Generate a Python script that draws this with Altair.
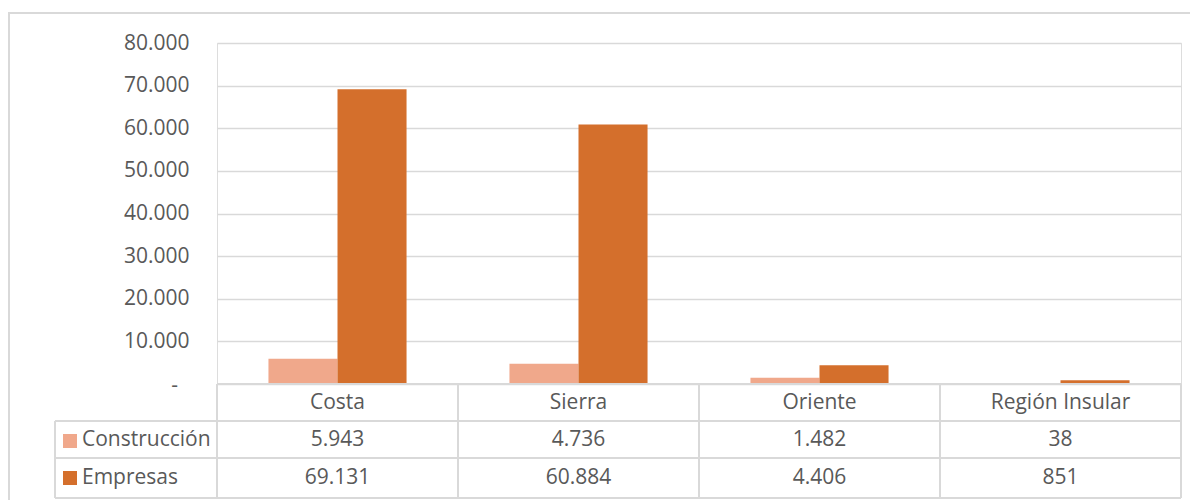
import altair as alt
import pandas as pd

# ---- data ----
regions = ["Costa", "Sierra", "Oriente", "Región Insular"]
series = ["Construcción", "Empresas"]
construccion = [5943, 4736, 1482, 38]
empresas = [69131, 60884, 4406, 851]
y_ticks = [0, 10000, 20000, 30000, 40000, 50000, 60000, 70000, 80000]
colors = ["#F0A88B", "#D46F2C"]

rows = []
for r, c, e in zip(regions, construccion, empresas):
    rows.append({"region": r, "serie": series[0], "value": c})
    rows.append({"region": r, "serie": series[1], "value": e})
df = pd.DataFrame(rows)

W, H = 964, 341
FONT = "Open Sans"
FS = 21
TXT = "#595959"
GRID = "#D9D9D9"

num_expr = "replace(format(datum.value, ','), regexp(',', 'g'), '.')"

base = alt.Chart(df)

x_enc = alt.X("region:N", sort=regions, axis=None,
              scale=alt.Scale(paddingInner=0.427, paddingOuter=0.2135))
y_scale = alt.Scale(domain=[0, 80000], nice=False)

bars = base.mark_bar().encode(
    x=x_enc,
    xOffset=alt.XOffset("serie:N", sort=series),
    y=alt.Y("value:Q", scale=y_scale,
            axis=alt.Axis(values=y_ticks, grid=True, gridColor=GRID, gridWidth=1.5,
                          domain=False, ticks=False, title=None,
                          labelFont=FONT, labelFontSize=FS, labelColor=TXT,
                          labelPadding=28,
                          labelExpr="datum.value == 0 ? '' : " + num_expr)),
    color=alt.Color("serie:N", sort=series,
                    scale=alt.Scale(domain=series, range=colors), legend=None),
)

# zero label shown as a dash (accounting format)
zero_dash = alt.Chart(pd.DataFrame({"v": [0]})).mark_text(
    text="-", font=FONT, fontSize=FS, color=TXT, align="right", baseline="middle", dy=2
).encode(x=alt.value(-39), y=alt.Y("v:Q", scale=y_scale))

# table grid lines (layout)
row_top, row1, row2, row_bot = H, H + 37, H + 74, H + 114
label_left = -162
col_edges = [0, 241, 482, 723, 964]
lines = [
    {"x": 0, "x2": W, "y": row_top, "y2": row_top},
    {"x": label_left, "x2": W, "y": row1, "y2": row1},
    {"x": label_left, "x2": W, "y": row2, "y2": row2},
    {"x": label_left, "x2": W, "y": row_bot, "y2": row_bot},
    {"x": label_left, "x2": label_left, "y": row1, "y2": row_bot},
] + [{"x": cx, "x2": cx, "y": row_top, "y2": row_bot} for cx in col_edges]
grid_df = pd.DataFrame(lines)

table_lines = alt.Chart(grid_df).mark_rule(color=GRID, strokeWidth=2).encode(
    x=alt.X("x:Q", scale=None), x2="x2:Q",
    y=alt.Y("y:Q", scale=None), y2="y2:Q",
)

header = alt.Chart(pd.DataFrame({"region": regions})).mark_text(
    font=FONT, fontSize=FS, color=TXT, baseline="middle"
).encode(x=x_enc, y=alt.value(row_top + 19), text="region:N")

def value_row(name, ypix):
    return base.transform_filter(alt.datum.serie == name).transform_calculate(
        label=num_expr
    ).mark_text(font=FONT, fontSize=FS, color=TXT, baseline="middle").encode(
        x=x_enc, y=alt.value(ypix), text="label:N")

vals1 = value_row(series[0], row1 + 19)
vals2 = value_row(series[1], row2 + 20)

leg_text1 = alt.Chart(pd.DataFrame({"serie": [series[0]]})).mark_text(
    font=FONT, fontSize=FS, color=TXT, baseline="middle", align="left"
).encode(x=alt.value(-135), y=alt.value(row1 + 19), text="serie:N")
leg_text2 = alt.Chart(pd.DataFrame({"serie": [series[1]]})).mark_text(
    font=FONT, fontSize=FS, color=TXT, baseline="middle", align="left"
).encode(x=alt.value(-135), y=alt.value(row2 + 20), text="serie:N")
sq1 = alt.Chart(pd.DataFrame({"serie": [series[0]]})).mark_square(
    size=196, opacity=1, color=colors[0]
).encode(x=alt.value(-147), y=alt.value(row1 + 20))
sq2 = alt.Chart(pd.DataFrame({"serie": [series[1]]})).mark_square(
    size=196, opacity=1, color=colors[1]
).encode(x=alt.value(-147), y=alt.value(row2 + 20))

border = alt.Chart(pd.DataFrame({"a": [0]})).mark_rect(
    fill=None, fillOpacity=0, stroke=GRID, strokeWidth=2
).encode(x=alt.value(-208), x2=alt.value(1100), y=alt.value(-30), y2=alt.value(700))

chart = alt.layer(
    border, bars, zero_dash, table_lines, header, vals1, vals2,
    leg_text1, leg_text2, sq1, sq2
).properties(
    width=W, height=H,
    autosize=alt.AutoSizeParams(type="none"),
    padding={"left": 209, "top": 35, "right": 9, "bottom": 116},
).configure_view(stroke=None).configure(background="white")

chart.save("out.html", embed_options={"renderer": "svg", "actions": False})
